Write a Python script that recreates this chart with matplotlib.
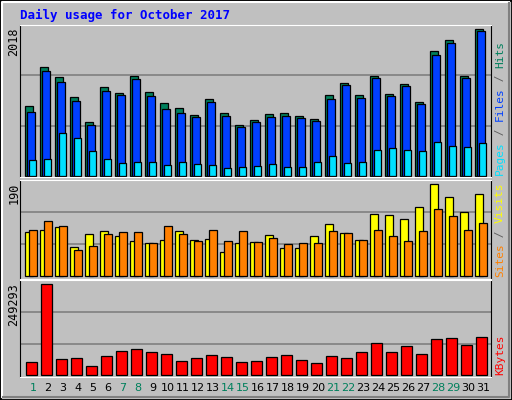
import numpy as np
import matplotlib.pyplot as plt
from matplotlib.patches import Rectangle

days = list(range(1, 32))
weekend = [1, 7, 8, 14, 15, 21, 22, 28, 29]

hits = [961, 1501, 1364, 1085, 741, 1222, 1139, 1373, 1153, 1002, 934, 837, 1057, 865, 700, 769,
        851, 865, 824, 782, 1112, 1277, 1112, 1373, 1126, 1263, 1016, 1716, 1867, 1373, 2018]
files = [879, 1446, 1290, 1030, 700, 1167, 1112, 1332, 1098, 920, 865, 810, 1016, 824, 673, 741,
         810, 824, 796, 755, 1057, 1249, 1071, 1345, 1098, 1236, 988, 1661, 1826, 1345, 1991]
pages = [220, 233, 590, 522, 343, 233, 178, 192, 192, 151, 192, 165, 151, 110, 124, 137,
         165, 124, 124, 192, 275, 178, 192, 357, 384, 357, 343, 467, 412, 398, 453]
visits = [91, 95, 101, 60, 87, 93, 83, 72, 68, 76, 93, 74, 78, 50, 68, 70,
          85, 58, 58, 83, 107, 89, 74, 128, 126, 118, 144, 190, 163, 132, 169]
sites = [95, 114, 103, 54, 62, 87, 91, 91, 68, 103, 87, 72, 95, 72, 93, 70,
         80, 66, 68, 68, 93, 89, 74, 95, 83, 72, 93, 140, 124, 95, 111]
kbytes = [35615, 249293, 43834, 46573, 24656, 52052, 65750, 71230, 63010, 57531, 38354, 46573,
          54792, 49313, 35615, 38354, 49313, 54792, 41094, 32875, 52052, 46573, 63010, 87667,
          63010, 79448, 57531, 98625, 101365, 82188, 104104]

W, H = 512, 400
BG = '#C0C0C0'
fig = plt.figure(figsize=(W / 100, H / 100), dpi=100, facecolor=BG)

# outer bevel
fig.add_artist(Rectangle((0, 0), 1, 1, transform=fig.transFigure, fill=False, ec='black', lw=2))
fig.add_artist(plt.Line2D([2 / W, 2 / W, 1 - 3 / W], [3 / H, 1 - 2 / H, 1 - 2 / H],
                          transform=fig.transFigure, color='white', lw=1.5))
fig.add_artist(plt.Line2D([3 / W, 1 - 3 / W, 1 - 3 / W], [3 / H, 3 / H, 1 - 3 / H],
                          transform=fig.transFigure, color='#808080', lw=1.5))

x0, x1 = 20, 491
xs = np.array(days)
xlim = (1 - 5 / 15, 1 + (x1 - 25) / 15)


def make_axes(top, bottom, base, ymax_px, vmax):
    ax = fig.add_axes([x0 / W, 1 - bottom / H, (x1 - x0) / W, (bottom - top) / H])
    ax.set_facecolor(BG)
    scale = vmax / (base - ymax_px)
    ax.set_ylim(-(bottom - base) * scale, (base - top) * scale)
    ax.set_xlim(*xlim)
    ax.set_xticks([])
    ax.set_yticks([])
    for f in (1 / 3, 2 / 3):
        ax.axhline(f * (base - top) * scale, color='#808080', lw=1.2, zorder=0)
    ax.spines['left'].set_color('black')
    ax.spines['top'].set_color('white')
    ax.spines['bottom'].set_color('white')
    ax.spines['right'].set_color('black')
    fig.text(14 / W, 1 - (top + 3) / H, str(vmax), rotation=90, ha='center', va='top',
             fontsize=8.5, family='DejaVu Sans Mono')
    return ax


kw = dict(align='edge', edgecolor='black', linewidth=0.9)

ax1 = make_axes(25, 177, 176, 29, 2018)
ax1.bar(xs, hits, width=8 / 15, color='#00805C', **kw)
ax1.bar(xs + 2 / 15, files, width=8 / 15, color='#0040FF', **kw)
ax1.bar(xs + 4 / 15, pages, width=7 / 15, color='#00E0FF', **kw)

ax2 = make_axes(180, 279, 276.3, 184.3, 190)
ax2.bar(xs, visits, width=8 / 15, color='#FFFF00', **kw)
ax2.bar(xs + 4 / 15, sites, width=8 / 15, color='#FF8000', **kw)

ax3 = make_axes(280, 377, 375.3, 284.3, 249293)
ax3.bar(xs + 1 / 15, kbytes, width=11 / 15, color='#FF0000', **kw)

for d in days:
    ax3.text(d + 8 / 15, -0.11, str(d), transform=ax3.get_xaxis_transform(), ha='center', va='center',
             fontsize=8, color='#00805C' if d in weekend else 'black')

fig.text(20 / W, 1 - 15 / H, 'Daily usage for October 2017', color='#0000FF', fontsize=9,
         fontweight='bold', family='DejaVu Sans Mono', va='center', ha='left')


def side_label(bottom_px, parts):
    # parts listed bottom to top, monospace so advance by char width
    y = bottom_px - 2
    for txt, col in parts:
        fig.text(500 / W, 1 - y / H, txt, rotation=90, ha='center', va='bottom',
                 fontsize=8, color=col, family='DejaVu Sans Mono')
        y -= len(txt) * 6.7


side_label(177, [('Pages', '#00E0FF'), (' / ', '#606060'), ('Files', '#0040FF'),
                 (' / ', '#606060'), ('Hits', '#00805C')])
side_label(279, [('Sites', '#FF8000'), (' / ', '#606060'), ('Visits', '#FFFF00')])
side_label(377, [('KBytes', '#FF0000')])

fig.savefig('out.png', dpi=100, facecolor=BG)
